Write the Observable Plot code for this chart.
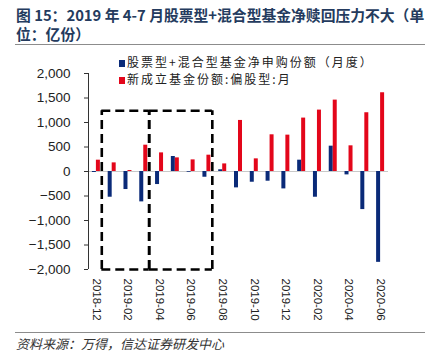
<!DOCTYPE html>
<html><head><meta charset="utf-8">
<script src="https://cdn.jsdelivr.net/npm/d3@7"></script>
<script src="https://cdn.jsdelivr.net/npm/@observablehq/plot@0.6"></script>
<style>
body{margin:0;width:435px;height:355px;position:relative;background:#fff;font-family:"Noto Sans CJK SC",sans-serif;overflow:hidden}
#title{position:absolute;left:16px;top:5px;font-size:14.8px;font-weight:bold;color:#243b5e;line-height:19px;white-space:nowrap}
.hr{position:absolute;left:15px;width:410px;height:1px;background:#8c8c8c}
#chart{position:absolute;left:0;top:48px}
.lg{position:absolute;left:119px;font-size:12px;letter-spacing:2px;color:#222;line-height:17.4px;height:17.4px;white-space:nowrap}
.sw{display:inline-block;width:6px;height:7px;margin-right:2px;vertical-align:0px}
#source{position:absolute;left:16px;top:334px;font-size:13px;font-style:italic;color:#333;white-space:nowrap}
</style>
</head><body>
<div id="title">图 15：2019 年 4-7 月股票型+混合型基金净赎回压力不大（单<br>位：亿份）</div>
<div class="hr" style="top:44px"></div>
<div id="chart"></div>
<div class="hr" style="top:332px"></div>
<div id="source">资料来源：万得，信达证券研发中心</div>
<script>
const months = ["2018-12","2019-01","2019-02","2019-03","2019-04","2019-05","2019-06","2019-07","2019-08","2019-09","2019-10","2019-11","2019-12","2020-01","2020-02","2020-03","2020-04","2020-05","2020-06"];
const netSubscription = [-20,-525,-368,-620,-266,306,-15,-117,35,-334,-219,-198,-355,231,-525,517,-69,-777,-1854];
const newEquityFunds = [231,176,20,537,380,278,237,333,155,1042,258,749,742,1090,1253,1457,524,1199,1607];
const xTickLabels = ["2018-12","2019-02","2019-04","2019-06","2019-08","2019-10","2019-12","2020-02","2020-04","2020-06"];
const yTicks = [-2000,-1500,-1000,-500,0,500,1000,1500,2000];
const seriesNames = ["股票型+混合型基金净申购份额（月度）","新成立基金份额:偏股型:月"];
const seriesColors = ["#0a2a78","#e3061a"];
const boxFrom = ["2019-01","2019-04"];
const boxTo = ["2019-03","2019-07"];
const boxTop = [1240,1240];
const boxBottom = [-2000,-2000];

const data = months.map((m,i)=>({month:m,i,blue:netSubscription[i],red:newEquityFunds[i]}));
const boxes = boxFrom.map((f,k)=>({x1:months.indexOf(f),x2:months.indexOf(boxTo[k])+1,y1:boxBottom[k],y2:boxTop[k]}));
const vEdges = boxes.flatMap(b=>[{x:b.x1,y1:b.y1,y2:b.y2},{x:b.x2,y1:b.y1,y2:b.y2}]);
const hEdges = boxes.flatMap(b=>[{y:b.y1,x1:b.x1,x2:b.x2},{y:b.y2,x1:b.x1,x2:b.x2}]);
const tickPos = xTickLabels.map(l=>months.indexOf(l)+0.5);
const labelAt = new Map(xTickLabels.map(l=>[months.indexOf(l)+0.5,l]));
const dash = {stroke:"#000", strokeWidth:2.6, strokeDasharray:"9,5", dx:-2.5};

const chart = Plot.plot({
  width:435, height:277,
  marginLeft:88, marginRight:47, marginTop:25, marginBottom:56,
  style:{fontFamily:"'Liberation Sans', Arial, sans-serif", color:"#222", background:"transparent"},
  x:{type:"linear", domain:[0, months.length]},
  y:{domain:[-2000,2000]},
  marks:[
    Plot.axisY({ticks:yTicks, tickSize:4, tickPadding:14, tickFormat:d3.format(","), fontSize:13.5, label:null, stroke:"#333"}),
    Plot.axisX({ticks:tickPos, tickFormat:d=>labelAt.get(d), tickRotate:90, tickSize:0, tickPadding:9, fontSize:11.5, label:null}),
    Plot.ruleY([0],{stroke:"#c8c8c8", strokeWidth:1.2}),
    Plot.ruleX([0],{stroke:"#333"}),
    Plot.rectY(data,{x1:"i", x2:d=>d.i+1, y:"blue", fill:seriesColors[0], insetLeft:3.9, insetRight:7.9}),
    Plot.rectY(data,{x1:"i", x2:d=>d.i+1, y:"red", fill:seriesColors[1], insetLeft:7.9, insetRight:3.9}),
    Plot.ruleX(vEdges,{x:"x", y1:"y1", y2:"y2", ...dash}),
    Plot.ruleY(hEdges,{y:"y", x1:"x1", x2:"x2", ...dash})
  ]
});
document.getElementById("chart").appendChild(chart);
seriesNames.forEach((n,k)=>{
  const row=document.createElement("div");
  row.className="lg";
  row.style.top=(52.8+k*17.5)+"px";
  row.innerHTML=`<span class="sw" style="background:${seriesColors[k]}"></span>${n}`;
  document.body.appendChild(row);
});
</script>
</body></html>
